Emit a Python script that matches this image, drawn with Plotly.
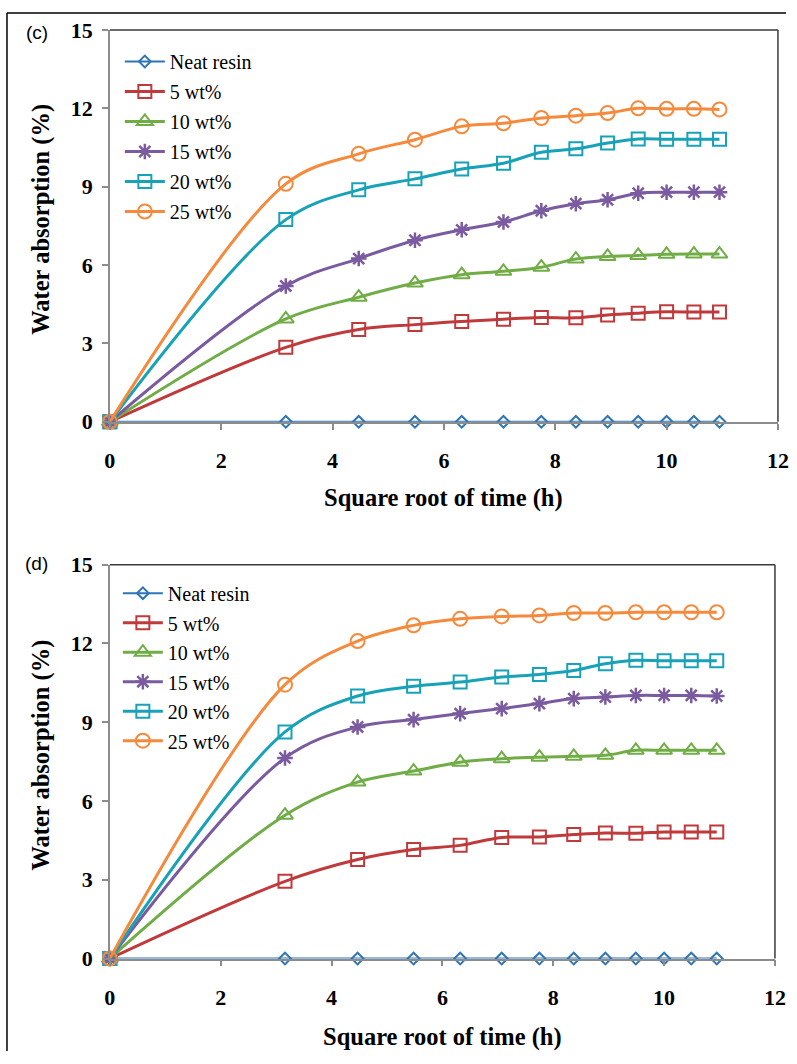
import plotly.graph_objects as go

# ---------------- data ----------------
x_sqrt_time = [0, 3.16, 4.47, 5.48, 6.32, 7.07, 7.75, 8.37, 8.94, 9.49, 10.0, 10.49, 10.95]

series_names = ["Neat resin", "5 wt%", "10 wt%", "15 wt%", "20 wt%", "25 wt%"]

# panel (c)
neat_c = [0, 0, 0, 0, 0, 0, 0, 0, 0, 0, 0, 0, 0]
wt5_c = [0, 2.85, 3.53, 3.72, 3.84, 3.93, 3.99, 3.98, 4.09, 4.16, 4.21, 4.20, 4.20]
wt10_c = [0, 3.94, 4.77, 5.31, 5.63, 5.76, 5.92, 6.23, 6.33, 6.37, 6.41, 6.42, 6.42]
wt15_c = [0, 5.20, 6.25, 6.95, 7.35, 7.65, 8.08, 8.35, 8.50, 8.75, 8.79, 8.79, 8.79]
wt20_c = [0, 7.74, 8.88, 9.30, 9.68, 9.90, 10.32, 10.45, 10.67, 10.83, 10.82, 10.82, 10.82]
wt25_c = [0, 9.11, 10.26, 10.80, 11.31, 11.43, 11.63, 11.72, 11.82, 12.00, 11.98, 11.98, 11.96]

# panel (d)
neat_d = [0, 0, 0, 0, 0, 0, 0, 0, 0, 0, 0, 0, 0]
wt5_d = [0, 2.94, 3.77, 4.15, 4.31, 4.61, 4.63, 4.72, 4.78, 4.77, 4.82, 4.82, 4.82]
wt10_d = [0, 5.46, 6.72, 7.14, 7.48, 7.61, 7.67, 7.70, 7.74, 7.93, 7.93, 7.93, 7.93]
wt15_d = [0, 7.64, 8.82, 9.10, 9.33, 9.52, 9.71, 9.90, 9.96, 10.02, 10.02, 10.02, 10.00]
wt20_d = [0, 8.63, 10.00, 10.37, 10.53, 10.72, 10.82, 10.97, 11.23, 11.36, 11.34, 11.34, 11.34]
wt25_d = [0, 10.43, 12.09, 12.69, 12.94, 13.03, 13.07, 13.16, 13.16, 13.19, 13.19, 13.19, 13.19]

x_ticks = [0, 2, 4, 6, 8, 10, 12]
y_ticks = [0, 3, 6, 9, 12, 15]

# ---------------- styles ----------------
colors = ["#2E75B6", "#C0393B", "#70AD47", "#7B5BA0", "#17A2B8", "#F58A3D"]
symbols = ["diamond-open", "square-open", "triangle-up-open", "asterisk-open", "square-open", "circle-open"]
msizes = [9, 13, 14, 13, 13, 14]
mlw = [2, 2, 2, 2.5, 2, 2]
lws = [2, 3, 3, 3, 3, 3]

W, H = 797, 1064
SERIF = "Liberation Serif"

# layout positions are given in target-picture pixels and mapped to figure pixels
SX, OX = 0.98, 4.0
SY, OY = 0.977, 11.0

def px_x(p):
    return min(max((p - OX) / SX / W, 0.0), 1.0)

def px_y(p):
    return min(max(1 - (p - OY) / SY / H, 0.0), 1.0)

fig = go.Figure()

panels = [
    ([neat_c, wt5_c, wt10_c, wt15_c, wt20_c, wt25_c], "x", "y", "legend"),
    ([neat_d, wt5_d, wt10_d, wt15_d, wt20_d, wt25_d], "x2", "y2", "legend2"),
]

for data, xa, ya, lg in panels:
    for i, ys in enumerate(data):
        fig.add_trace(go.Scatter(
            x=x_sqrt_time, y=ys, name=series_names[i],
            mode="lines+markers",
            line=dict(color=colors[i], width=lws[i], shape="spline", smoothing=1.0),
            marker=dict(symbol=symbols[i], size=msizes[i], color=colors[i],
                        line=dict(color=colors[i], width=mlw[i])),
            xaxis=xa, yaxis=ya, legend=lg, legendgroup=lg + str(i),
            cliponaxis=False,
        ))

tickfont = dict(family=SERIF, size=22, color="black", weight="bold")
axis_common = dict(
    showgrid=False, zeroline=False, showline=True, linecolor="#8C8C8C", linewidth=1.5,
    ticks="outside", ticklen=6, tickwidth=1.5, tickcolor="#8C8C8C",
    tickfont=tickfont,
)

fig.update_layout(
    width=W, height=H,
    margin=dict(l=0, r=0, t=0, b=0),
    paper_bgcolor="white", plot_bgcolor="white",
    xaxis=dict(domain=[px_x(108), px_x(777)], range=[0, 12], tickvals=x_ticks,
               anchor="y", ticklabelstandoff=12, **axis_common),
    yaxis=dict(domain=[px_y(421), px_y(29)], range=[0, 15], tickvals=y_ticks,
               anchor="x", ticklabelstandoff=5, **axis_common),
    xaxis2=dict(domain=[px_x(108), px_x(774)], range=[0, 12], tickvals=x_ticks,
                anchor="y2", ticklabelstandoff=12, **axis_common),
    yaxis2=dict(domain=[px_y(958), px_y(564)], range=[0, 15], tickvals=y_ticks,
                anchor="x2", ticklabelstandoff=5, **axis_common),
    legend=dict(x=px_x(118), y=px_y(41), xanchor="left", yanchor="top",
                bgcolor="rgba(0,0,0,0)", tracegroupgap=1, itemwidth=40,
                font=dict(family=SERIF, size=20, color="black")),
    legend2=dict(x=px_x(116), y=px_y(573), xanchor="left", yanchor="top",
                 bgcolor="rgba(0,0,0,0)", tracegroupgap=0.5, itemwidth=40,
                 font=dict(family=SERIF, size=20, color="black")),
    showlegend=True,
)

title_font = dict(family=SERIF, size=24.5, color="black", weight="bold")
annotations = [
    dict(text="Square root of time (h)", x=px_x(442.5), y=px_y(497), xref="paper", yref="paper",
         xanchor="center", yanchor="middle", showarrow=False, font=title_font),
    dict(text="Square root of time (h)", x=px_x(441), y=px_y(1037), xref="paper", yref="paper",
         xanchor="center", yanchor="middle", showarrow=False, font=title_font),
    dict(text="Water absorption (%)", x=px_x(39), y=px_y(218), xref="paper", yref="paper",
         xanchor="center", yanchor="middle", showarrow=False, textangle=-90, font=title_font),
    dict(text="Water absorption (%)", x=px_x(39), y=px_y(754), xref="paper", yref="paper",
         xanchor="center", yanchor="middle", showarrow=False, textangle=-90, font=title_font),
    dict(text="(c)", x=px_x(35), y=px_y(32), xref="paper", yref="paper",
         xanchor="center", yanchor="middle", showarrow=False,
         font=dict(family="Liberation Sans", size=19, color="black")),
    dict(text="(d)", x=px_x(35), y=px_y(563), xref="paper", yref="paper",
         xanchor="center", yanchor="middle", showarrow=False,
         font=dict(family="Liberation Sans", size=19, color="black")),
]
fig.update_layout(annotations=annotations)

frame = dict(color="#3A3A3A", width=1.5)
shapes = []
for xa, ya in [("x", "y"), ("x2", "y2")]:
    shapes.append(dict(type="line", xref=xa + " domain", yref=ya + " domain",
                       x0=0, x1=1, y0=1, y1=1, line=frame))
    shapes.append(dict(type="line", xref=xa + " domain", yref=ya + " domain",
                       x0=1, x1=1, y0=0, y1=1, line=frame))
# page frame lines (top and left)
page = dict(color="black", width=1.5)
fx = 1.0 / W
fy = 1 - 1.0 / H
shapes.append(dict(type="line", xref="paper", yref="paper", x0=fx, x1=1,
                   y0=fy, y1=fy, line=page))
shapes.append(dict(type="line", xref="paper", yref="paper", x0=fx, x1=fx,
                   y0=0, y1=fy, line=page))
fig.update_layout(shapes=shapes)

fig.write_html("out.html")
